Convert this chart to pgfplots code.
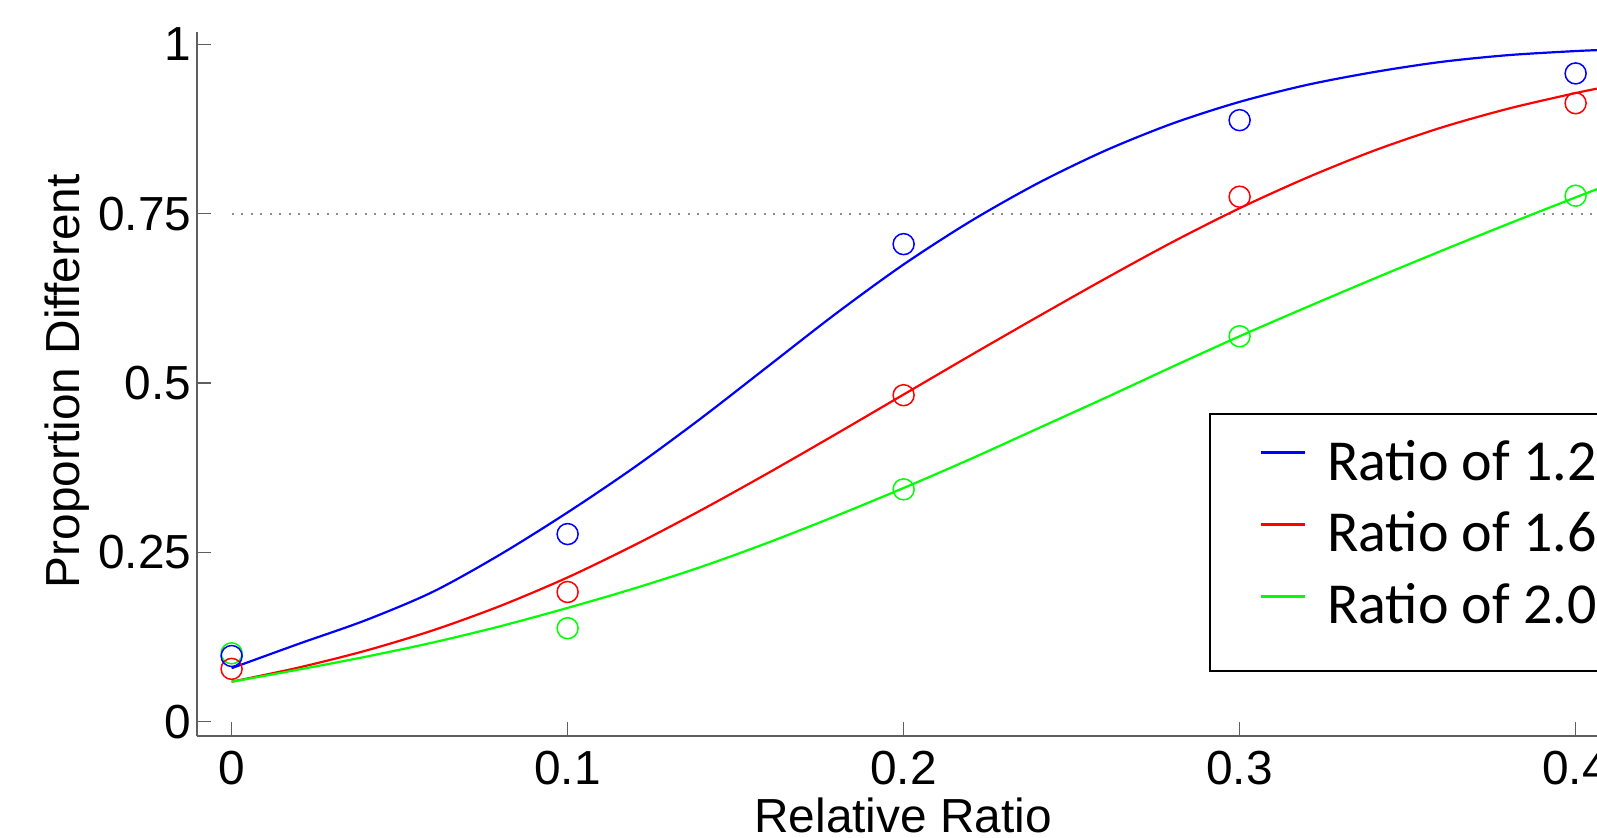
\documentclass[border=0pt]{standalone}
\usepackage{fontspec}
\setmainfont{Liberation Sans}
\newfontfamily\legfont{Carlito}
\usepackage{pgfplots}
\pgfplotsset{compat=1.18}
\definecolor{mblue}{RGB}{0,0,255}
\definecolor{mred}{RGB}{255,0,0}
\definecolor{mgreen}{RGB}{0,255,0}
\definecolor{axgray}{RGB}{95,95,95}
\definecolor{refgray}{RGB}{140,140,140}

\begin{document}
\begin{tikzpicture}
\useasboundingbox (0,0) rectangle (15.97cm,8.37cm);
\clip (0,0) rectangle (15.97cm,8.37cm);
\begin{axis}[
  at={(1.97cm,1.01cm)}, anchor=south west,
  scale only axis, width=14.122cm, height=7.039cm,
  xmin=-0.0103, xmax=0.41, ymin=-0.0211, ymax=1.018,
  axis x line*=bottom, axis y line*=left,
  axis line style={axgray, line width=0.02cm},
  tick style={axgray, line width=0.015cm},
  major tick length=0.14cm, tick align=inside,
  xtick={0,0.1,0.2,0.3,0.4}, xticklabels={0,0.1,0.2,0.3,0.4},
  ytick={0,0.25,0.5,0.75,1}, yticklabels={0,0.25,0.5,0.75,1},
  tick label style={font=\fontsize{13.6}{16}\selectfont, text=black},
  xticklabel style={anchor=north, inner sep=0pt, yshift=-0.14cm},
  yticklabel style={anchor=east, inner sep=0pt, xshift=-0.05cm},
  label style={font=\fontsize{13.6}{16}\selectfont},
  xlabel={Relative Ratio},
  xlabel style={at={(axis description cs:0.5,-0.1365)}, anchor=base, inner sep=0pt},
  ylabel={Proportion Different},
  ylabel style={at={(axis description cs:-0.0829,0.504)}, anchor=base, inner sep=0pt},
  legend style={at={(axis cs:0.2909,0.4557)}, anchor=north west,
    draw=black, line width=0.02cm, inner xsep=0.49cm, inner ysep=0.21cm,
    font=\legfont\fontsize{16.5}{20}\selectfont,
    row sep=0pt, column sep=0pt,
    nodes={inner sep=0pt, text height=0.45cm, text depth=0.266cm},
    /tikz/every odd column/.append style={column sep=0.21cm}},
  legend cell align=left,
  legend image code/.code={\draw[#1, line width=0.03cm] (0cm,0.18cm) -- (0.44cm,0.18cm);},
]
% 75% reference line
\addplot[refgray, line width=0.02cm, dash pattern=on 0.02cm off 0.075cm, forget plot]
  coordinates {(0,0.75) (0.41,0.75)};

% fitted curves
\addplot[mblue, line width=0.022cm, smooth] coordinates {
 (0,0.079) (0.02,0.115) (0.04,0.150) (0.06,0.192) (0.08,0.247) (0.10,0.309)
 (0.12,0.376) (0.14,0.449) (0.16,0.526) (0.18,0.603) (0.20,0.675) (0.22,0.739)
 (0.24,0.795) (0.26,0.843) (0.28,0.883) (0.30,0.915) (0.32,0.940) (0.34,0.959)
 (0.36,0.974) (0.38,0.984) (0.40,0.990) (0.41,0.992)};
\addplot[mred, line width=0.022cm, smooth] coordinates {
 (0,0.059) (0.02,0.080) (0.04,0.105) (0.06,0.135) (0.08,0.171) (0.10,0.213)
 (0.12,0.261) (0.14,0.313) (0.16,0.368) (0.18,0.425) (0.20,0.483) (0.22,0.541)
 (0.24,0.598) (0.26,0.654) (0.28,0.708) (0.30,0.758) (0.32,0.803) (0.34,0.843)
 (0.36,0.877) (0.38,0.905) (0.40,0.928) (0.41,0.938)};
\addplot[mgreen, line width=0.022cm, smooth] coordinates {
 (0,0.059) (0.02,0.077) (0.04,0.096) (0.06,0.117) (0.08,0.141) (0.10,0.168)
 (0.12,0.197) (0.14,0.229) (0.16,0.265) (0.18,0.304) (0.20,0.345) (0.22,0.388)
 (0.24,0.433) (0.26,0.478) (0.28,0.524) (0.30,0.569) (0.32,0.612) (0.34,0.654)
 (0.36,0.695) (0.38,0.735) (0.40,0.774) (0.41,0.793)};

% observed proportions
\addplot[only marks, mark=o, mark size=0.105cm, mgreen, mark options={line width=0.015cm}, forget plot]
  coordinates {(0,0.101) (0.1,0.138) (0.2,0.343) (0.3,0.569) (0.4,0.7765)};
\addplot[only marks, mark=o, mark size=0.105cm, mred, mark options={line width=0.015cm}, forget plot]
  coordinates {(0,0.078) (0.1,0.1915) (0.2,0.482) (0.3,0.775) (0.4,0.913)};
\addplot[only marks, mark=o, mark size=0.105cm, mblue, mark options={line width=0.015cm}, forget plot]
  coordinates {(0,0.097) (0.1,0.277) (0.2,0.705) (0.3,0.888) (0.4,0.957)};

\legend{Ratio of 1.2, Ratio of 1.6, Ratio of 2.0}
\end{axis}
\end{tikzpicture}
\end{document}
